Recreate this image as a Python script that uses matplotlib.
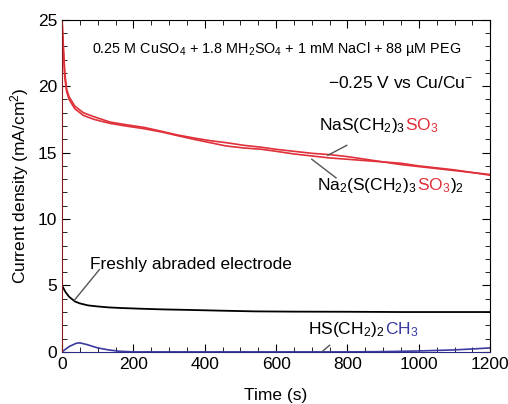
import matplotlib
matplotlib.use('Agg')
import matplotlib.pyplot as plt
from matplotlib.ticker import MultipleLocator

plt.rcParams['font.family'] = ['Liberation Sans', 'DejaVu Sans']
plt.rcParams['mathtext.fontset'] = 'custom'
plt.rcParams['mathtext.rm'] = 'Liberation Sans'
plt.rcParams['mathtext.it'] = 'Liberation Sans:italic'
plt.rcParams['mathtext.default'] = 'regular'

# red: the two SPS / MPS curves
t_red = [0, 3, 8, 13, 20, 36, 60, 90, 135, 180, 230, 280, 320, 370, 415, 460, 510,
         560, 600, 650, 700, 750, 800, 850, 900, 950, 1000, 1050, 1100, 1150, 1200]
mps = [25, 23.5, 21.0, 19.8, 19.2, 18.5, 18.0, 17.7, 17.3, 17.1, 16.9, 16.6, 16.35,
       16.1, 15.9, 15.75, 15.55, 15.4, 15.25, 15.1, 14.95, 14.85, 14.7, 14.5, 14.3,
       14.2, 14.0, 13.85, 13.7, 13.5, 13.35]
sps = [25, 23.0, 20.6, 19.6, 19.0, 18.3, 17.8, 17.5, 17.2, 17.0, 16.8, 16.55, 16.3,
       16.0, 15.75, 15.5, 15.35, 15.25, 15.1, 14.9, 14.75, 14.6, 14.5, 14.4, 14.3,
       14.1, 13.95, 13.8, 13.65, 13.5, 13.3]

# black: freshly abraded electrode
t_blk = [0, 10, 20, 36, 50, 73, 100, 130, 168, 220, 280, 353, 450, 540, 650, 800, 950, 1100, 1200]
fresh = [5.0, 4.5, 4.15, 3.8, 3.65, 3.5, 3.42, 3.35, 3.3, 3.25, 3.2, 3.16, 3.1, 3.05,
         3.03, 3.02, 3.0, 3.0, 3.0]

# blue: HS(CH2)2CH3
t_blu = [0, 20, 40, 50, 70, 100, 130, 160, 200, 400, 800, 900, 1000, 1100, 1150, 1200]
hs = [0, 0.4, 0.65, 0.68, 0.55, 0.3, 0.15, 0.05, 0.0, 0.0, 0.0, 0.02, 0.07, 0.15, 0.22, 0.3]

red = '#e0303a'
blue = '#3a3aa0'
fs = 12.5

fig = plt.figure(figsize=(5.08, 4.04), dpi=100)
ax = fig.add_axes([0.122, 0.129, 0.843, 0.822])

ax.plot(t_red, mps, color=red, lw=1.2)
ax.plot(t_red, sps, color=red, lw=1.2)
ax.plot(t_blk, fresh, color='black', lw=1.3)
ax.plot(t_blu, hs, color=blue, lw=1.2)

ax.set_xlim(0, 1200)
ax.set_ylim(0, 25)
ax.xaxis.set_major_locator(MultipleLocator(200))
ax.xaxis.set_minor_locator(MultipleLocator(50))
ax.yaxis.set_major_locator(MultipleLocator(5))
ax.yaxis.set_minor_locator(MultipleLocator(1))
ax.tick_params(which='both', direction='in', top=True, right=True, labelsize=fs)
ax.tick_params(which='major', length=6)
ax.tick_params(which='minor', length=3.5)
ax.spines['left'].set_color('#8b1a1a')
ax.spines['bottom'].set_color('#2a2a80')

ax.set_xlabel('Time (s)', fontsize=fs, labelpad=12)
ax.set_ylabel('Current density (mA/cm$^2$)', fontsize=fs, labelpad=5)

ax.text(0.502, 0.913, '0.25 M CuSO$_4$ + 1.8 MH$_2$SO$_4$ + 1 mM NaCl + 88 µM PEG',
        transform=ax.transAxes, ha='center', va='center', fontsize=10.4)
ax.text(0.96, 0.81, '−0.25 V vs Cu/Cu$^{-}$', transform=ax.transAxes,
        ha='right', va='center', fontsize=fs)

t1 = ax.text(720, 16.3, 'NaS(CH$_2$)$_3$', fontsize=fs, va='bottom')
ax.annotate('SO$_3$', xy=(1, 0), xycoords=t1, va='bottom', fontsize=fs, color=red)
t2 = ax.text(715, 11.8, 'Na$_2$(S(CH$_2$)$_3$', fontsize=fs, va='bottom')
t3 = ax.annotate('SO$_3$', xy=(1, 0), xycoords=t2, va='bottom', fontsize=fs, color=red)
ax.annotate(')$_2$', xy=(1, 0), xycoords=t3, va='bottom', fontsize=fs)
ax.plot([745, 798], [14.8, 15.55], color='#555555', lw=1)
ax.plot([700, 768], [14.5, 13.1], color='#555555', lw=1)

ax.text(78, 6.0, 'Freshly abraded electrode', fontsize=fs, va='bottom')
ax.plot([35, 105], [3.9, 6.2], color='#555555', lw=1)

t4 = ax.text(690, 0.95, 'HS(CH$_2$)$_2$', fontsize=fs, va='bottom')
ax.annotate('CH$_3$', xy=(1, 0), xycoords=t4, va='bottom', fontsize=fs, color=blue)
ax.plot([728, 750], [0.0, 0.5], color='#555555', lw=1)

fig.savefig('out.png', dpi=100)
